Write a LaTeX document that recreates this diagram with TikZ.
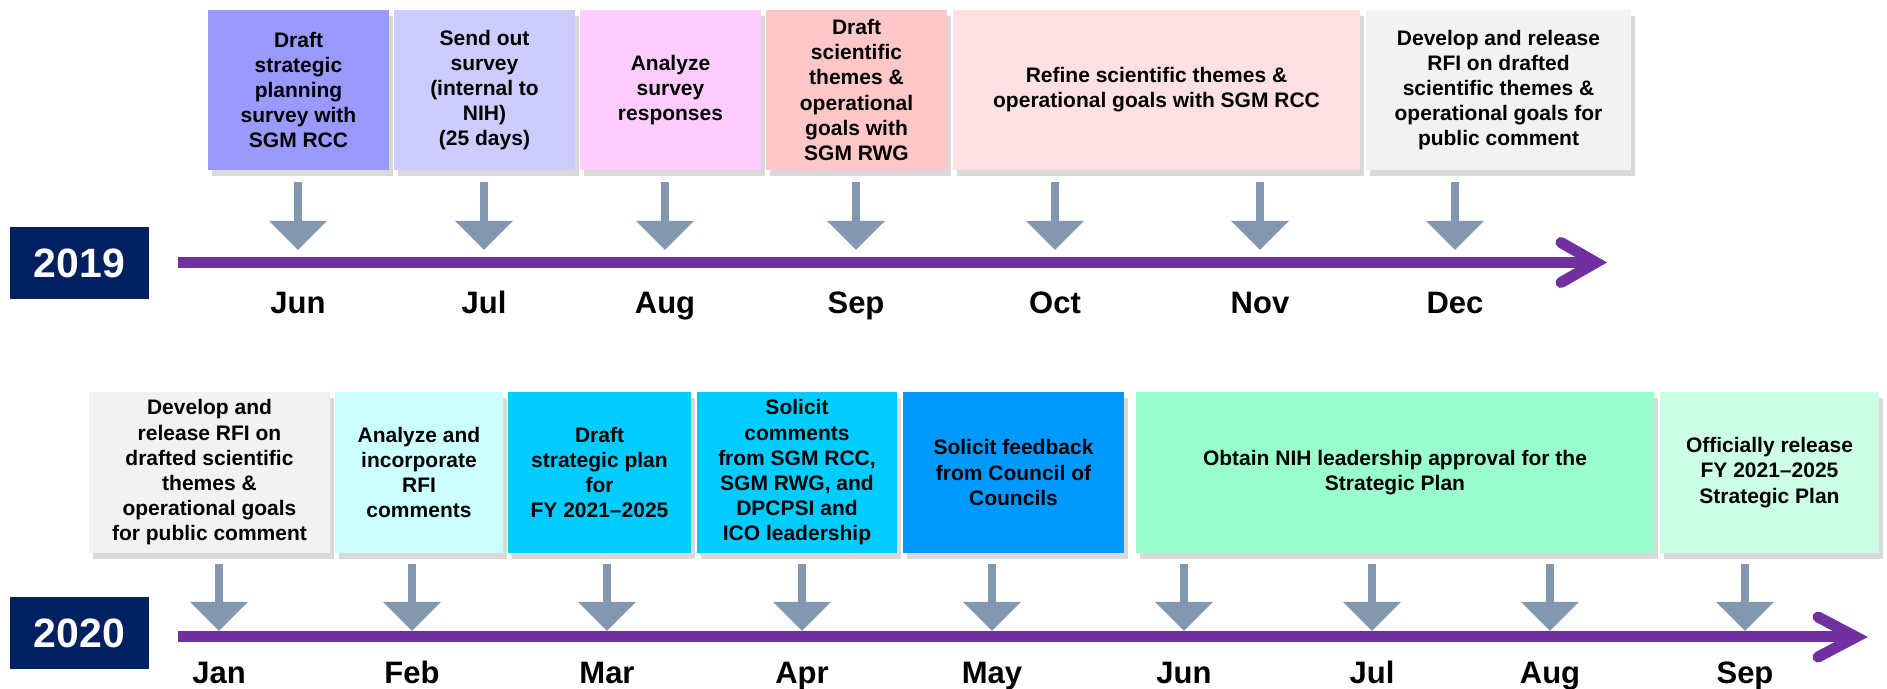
\documentclass[tikz,border=0pt]{standalone}
\usepackage{fontspec}
\setmainfont{Liberation Sans}
\usetikzlibrary{arrows.meta,shadows}
\definecolor{navy}{HTML}{002060}
\definecolor{tlpurple}{HTML}{7030A0}
\definecolor{arrgray}{HTML}{8497B0}
\definecolor{cSurvey}{HTML}{9999FF}
\definecolor{cSend}{HTML}{CCCCFF}
\definecolor{cAnalyze}{HTML}{FFCCFF}
\definecolor{cDraftSci}{HTML}{FFC7C7}
\definecolor{cRefine}{HTML}{FFE1E4}
\definecolor{cRFI}{HTML}{F2F2F2}
\definecolor{cIncorp}{HTML}{CCFFFF}
\definecolor{cPlan}{HTML}{00CCFF}
\definecolor{cCouncil}{HTML}{0099FF}
\definecolor{cApprove}{HTML}{99FFCC}
\definecolor{cRelease}{HTML}{CCFFE6}
\tikzset{
  stepbox/.style={rectangle,inner sep=0pt,align=center,font=\fontsize{10.5}{12.6}\selectfont\bfseries,
    drop shadow={shadow xshift=2pt,shadow yshift=-3pt,opacity=0.3}},
  month/.style={anchor=base,font=\fontsize{15.5}{18}\selectfont\bfseries},
  yearbox/.style={fill=navy,text=white,minimum width=69.5pt,minimum height=36pt,font=\fontsize{20.5}{24}\selectfont\bfseries},
  timeline/.style={line width=5.5pt,tlpurple},
  chevron/.style={line width=5.5pt,tlpurple,line cap=round,line join=miter},
  downarrow/.style={line width=4pt,arrgray,-{Triangle[length=14.5pt,width=28pt]}}
}
\begin{document}
\begin{tikzpicture}[x=0.5pt,y=-0.5pt]
\useasboundingbox (0,0) rectangle (1887,689);
\node[yearbox] (y19) at (79.5,263) {2019};
\node[yearbox] (y20) at (79.5,633.5) {2020};
\node[stepbox,fill=cSurvey,minimum width=90.5pt,minimum height=80pt] (s19a) at (298.5,90) {Draft\\strategic\\planning\\survey with\\SGM RCC};
\node[stepbox,fill=cSend,minimum width=90.5pt,minimum height=80pt] (s19b) at (484.5,90) {Send out\\survey\\(internal to\\NIH)\\(25 days)};
\node[stepbox,fill=cAnalyze,minimum width=90.5pt,minimum height=80pt] (s19c) at (670.5,90) {Analyze\\survey\\responses};
\node[stepbox,fill=cDraftSci,minimum width=90.5pt,minimum height=80pt] (s19d) at (856.5,90) {Draft\\scientific\\themes \&\\operational\\goals with\\SGM RWG};
\node[stepbox,fill=cRefine,minimum width=203.5pt,minimum height=80pt] (s19e) at (1156.5,90) {Refine scientific themes \&\\operational goals with SGM RCC};
\node[stepbox,fill=cRFI,minimum width=132.5pt,minimum height=80pt] (s19f) at (1498.5,90) {Develop and release\\RFI on drafted\\scientific themes \&\\operational goals for\\public comment};
\node[stepbox,fill=cRFI,minimum width=120.5pt,minimum height=80.5pt] (s20a) at (209.5,472.5) {Develop and\\release RFI on\\drafted scientific\\themes \&\\operational goals\\for public comment};
\node[stepbox,fill=cIncorp,minimum width=84pt,minimum height=80.5pt] (s20b) at (419,472.5) {Analyze and\\incorporate\\RFI\\comments};
\node[stepbox,fill=cPlan,minimum width=91.5pt,minimum height=80.5pt] (s20c) at (599.5,472.5) {Draft\\strategic plan\\for\\FY 2021–2025};
\node[stepbox,fill=cPlan,minimum width=100pt,minimum height=80.5pt] (s20d) at (797,472.5) {Solicit\\comments\\from SGM RCC,\\SGM RWG, and\\DPCPSI and\\ICO leadership};
\node[stepbox,fill=cCouncil,minimum width=110.5pt,minimum height=80.5pt] (s20e) at (1013.5,472.5) {Solicit feedback\\from Council of\\Councils};
\node[stepbox,fill=cApprove,minimum width=259pt,minimum height=80.5pt] (s20f) at (1395,472.5) {Obtain NIH leadership approval for the\\Strategic Plan};
\node[stepbox,fill=cRelease,minimum width=109.5pt,minimum height=80.5pt] (s20g) at (1769.5,472.5) {Officially release\\FY 2021–2025\\Strategic Plan};
\coordinate (a19top) at (0,182);
\coordinate (a19tip) at (0,250);
\coordinate (a20top) at (0,564);
\coordinate (a20tip) at (0,631);
\coordinate (t19s) at (178,262.5);
\coordinate (t19e) at (1596,262.5);
\coordinate (t20s) at (178,637);
\coordinate (t20e) at (1856,637);
\draw[timeline] (t19s) -- (t19e);
\draw[chevron] (t19e) ++(-35,-20) -- ++(35,20) -- ++(-35,20);
\draw[timeline] (t20s) -- (t20e);
\draw[chevron] (t20e) ++(-38,-20) -- ++(38,20) -- ++(-38,20);
\foreach \m/\x in {Jun/298,Jul/484,Aug/665,Sep/856,Oct/1055,Nov/1260,Dec/1455}{
  \node[month] (m19\m) at (\x,314) {\m};
  \draw[downarrow] (m19\m |- a19top) -- (m19\m |- a19tip);
}
\foreach \m/\x in {Jan/219,Feb/412,Mar/607,Apr/802,May/992,Jun/1184,Jul/1372,Aug/1550,Sep/1745}{
  \node[month] (m20\m) at (\x,684) {\m};
  \draw[downarrow] (m20\m |- a20top) -- (m20\m |- a20tip);
}
\end{tikzpicture}
\end{document}
